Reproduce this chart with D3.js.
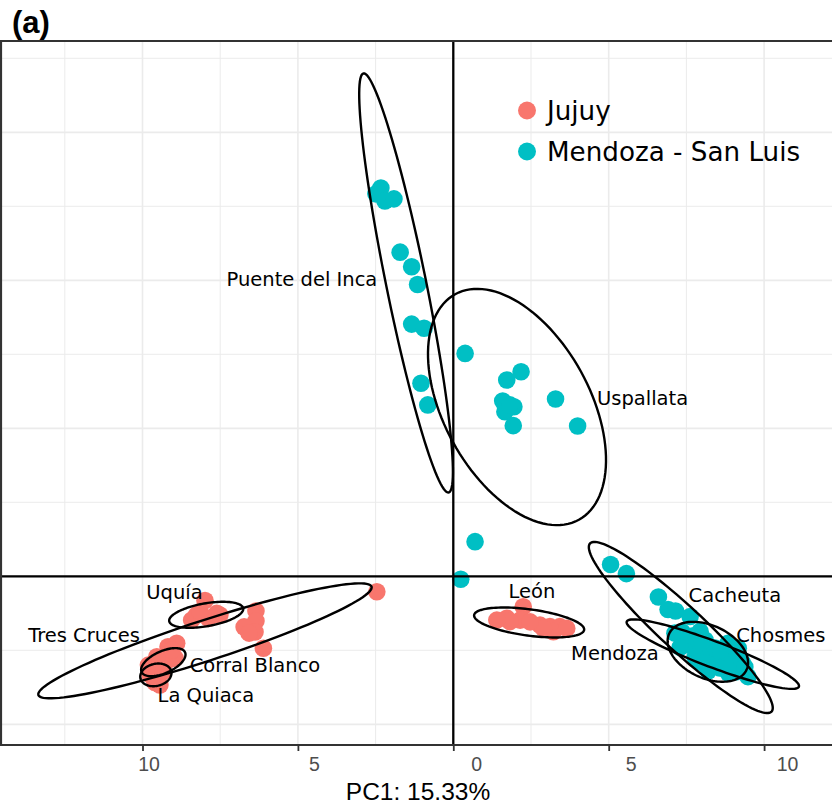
<!DOCTYPE html>
<html>
<head>
<meta charset="utf-8">
<script src="https://cdn.jsdelivr.net/npm/d3@7"></script>
<style>
body { margin: 0; background: #fff; }
</style>
</head>
<body>
<script>
// PCA scores (PC1, PC2)
let jujuyPoints = [
    [-2.46, -0.52],
    // Uquía
    [-7.99, -0.82], [-8.26, -1.31], [-7.61, -1.25], [-8.42, -1.48], [-7.88, -1.42], [-7.51, -1.31], [-8.15, -1.20],
    // Tres Cruces
    [-6.35, -1.17], [-6.35, -1.51], [-6.73, -1.71], [-6.38, -1.88], [-6.57, -1.92], [-6.11, -2.43],
    // Corral Blanco / La Quiaca
    [-8.90, -2.26], [-9.18, -2.38], [-8.95, -2.77], [-9.17, -2.83], [-9.38, -2.94], [-9.65, -3.05],
    [-9.81, -3.00], [-9.54, -2.72], [-9.76, -3.33], [-9.54, -3.22], [-9.33, -3.22], [-9.60, -3.59],
    [-9.44, -3.67], [-9.05, -2.49],
    // León
    [2.25, -1.03], [1.72, -1.42], [2.15, -1.48], [1.82, -1.53], [1.40, -1.48], [2.79, -1.65],
    [3.11, -1.70], [3.43, -1.70], [3.22, -1.87], [2.90, -1.76], [3.65, -1.76], [2.47, -1.54]
]

let mendozaPoints = [
    // Puente del Inca
    [-2.49, 12.92], [-2.33, 13.12], [-2.20, 12.68], [-1.91, 12.75], [-1.71, 10.95], [-1.34, 10.46],
    [-1.15, 9.86], [-1.34, 8.52], [-0.94, 8.38], [-1.04, 6.52], [-0.82, 5.79],
    // Uspallata
    [0.38, 7.53], [2.18, 6.91], [1.72, 6.63], [1.59, 5.92], [1.95, 5.73], [1.66, 5.56],
    [1.93, 5.09], [3.29, 5.99], [4.00, 5.08], [1.82, 5.79],
    [0.70, 1.17], [0.24, -0.10],
    // Cacheuta / Chosmes / Mendoza
    [5.06, 0.40], [5.57, 0.09], [6.60, -0.70], [6.91, -1.12], [7.15, -1.17], [7.62, -1.36],
    [7.94, -1.86], [7.13, -1.92], [8.84, -2.26], [9.17, -2.43], [9.48, -3.39], [8.85, -3.27],
    [9.13, -3.22], [7.45, -2.15], [7.61, -2.32], [7.94, -2.49], [8.26, -2.66], [8.58, -2.83],
    [8.10, -2.15], [8.42, -2.42], [8.74, -2.66], [9.06, -2.83], [7.78, -2.73], [8.26, -3.00],
    [8.90, -3.00], [9.29, -2.90], [7.94, -2.90], [8.58, -3.10], [9.38, -3.06], [7.36, -1.88],
    [7.68, -2.02], [8.00, -2.20], [8.60, -2.50], [7.30, -2.40], [8.20, -3.20]
]

// confidence ellipses: centre, end of one axis, end of the other axis
let ellipseCenters = [[-1.52, 9.91], [2.05, 5.72], [-7.99, -2.18], [-7.95, -1.30], [-9.33, -2.90],
    [-9.57, -3.33], [2.44, -1.56], [7.32, -1.73], [8.35, -2.63], [8.19, -2.55]]
let ellipseAxisA = [[-2.89, 16.99], [4.04, 1.91], [-2.63, -0.35], [-6.76, -1.08], [-8.63, -2.57],
    [-9.07, -3.23], [4.21, -1.81], [10.24, -4.57], [11.12, -3.73], [9.43, -3.17]]
let ellipseAxisB = [[-0.89, 10.04], [4.11, 6.91], [-7.79, -2.83], [-7.88, -1.68], [-9.19, -3.24],
    [-9.52, -3.70], [2.38, -2.00], [7.80, -1.19], [8.50, -2.22], [8.56, -1.75]]

let siteNames = ['Puente del Inca', 'Uspallata', 'Uquía', 'Tres Cruces', 'Corral Blanco',
    'La Quiaca', 'León', 'Cacheuta', 'Chosmes', 'Mendoza']
let siteX = [-4.87, 6.09, -8.97, -11.88, -6.38, -7.96, 2.53, 9.06, 10.54, 5.20]
let siteY = [10.03, 6.01, -0.55, -1.98, -3.00, -4.01, -0.50, -0.63, -1.98, -2.59]

let groups = ['Jujuy', 'Mendoza - San Luis']
let xTicks = [-10, -5, 0, 5, 10]
let xTickLabels = ['10', '5', '0', '5', '10']

SVG_WIDTH = 832
SVG_HEIGHT = 809
JUJUY_COLOR = '#F8766D'
MENDOZA_COLOR = '#00BFC4'
TICK_NUDGE = [6, 16, 23, 22, 23]

let panel = {left: 1, right: 832, top: 41, bottom: 745}

let x = d3.scaleLinear().domain([-14.585, 12.185]).range([0, 832])
let y = d3.scaleLinear().domain([-5.699, 18.084]).range([panel.bottom, panel.top])

let svg = d3.select('body').append('svg')
    .attr('width', SVG_WIDTH)
    .attr('height', SVG_HEIGHT)
    .style('display', 'block')

// grid
let grid = svg.append('g')
let xMinor = [-12.5, -7.5, -2.5, 2.5, 7.5]
let yMinor = [-2.5, 2.5, 7.5, 12.5, 17.5]
let yMajor = [-5, 0, 5, 10, 15]

grid.selectAll('.xminor').data(xMinor).join('line')
    .attr('x1', d => x(d)).attr('x2', d => x(d))
    .attr('y1', panel.top).attr('y2', panel.bottom)
    .attr('stroke', '#ebebeb').attr('stroke-width', 1)
grid.selectAll('.xmajor').data(xTicks).join('line')
    .attr('x1', d => x(d)).attr('x2', d => x(d))
    .attr('y1', panel.top).attr('y2', panel.bottom)
    .attr('stroke', '#ebebeb').attr('stroke-width', 1.6)
grid.selectAll('.yminor').data(yMinor).join('line')
    .attr('y1', d => y(d)).attr('y2', d => y(d))
    .attr('x1', panel.left).attr('x2', panel.right)
    .attr('stroke', '#ebebeb').attr('stroke-width', 1)
grid.selectAll('.ymajor').data(yMajor).join('line')
    .attr('y1', d => y(d)).attr('y2', d => y(d))
    .attr('x1', panel.left).attr('x2', panel.right)
    .attr('stroke', '#ebebeb').attr('stroke-width', 1.8)

// points
svg.append('g').selectAll('circle')
    .data(jujuyPoints.map(p => ({p: p, c: JUJUY_COLOR})).concat(mendozaPoints.map(p => ({p: p, c: MENDOZA_COLOR}))))
    .join('circle')
    .attr('cx', d => x(d.p[0]))
    .attr('cy', d => y(d.p[1]))
    .attr('r', 8.8)
    .attr('fill', d => d.c)

// ellipses
let ellipsePoints = (i) => {
    let c = ellipseCenters[i], a = ellipseAxisA[i], b = ellipseAxisB[i]
    return d3.range(0, 120).map(k => {
        let t = k / 120 * 2 * Math.PI
        return [c[0] + Math.cos(t) * (a[0] - c[0]) + Math.sin(t) * (b[0] - c[0]),
                c[1] + Math.cos(t) * (a[1] - c[1]) + Math.sin(t) * (b[1] - c[1])]
    })
}
let ellipseLine = d3.line().x(d => x(d[0])).y(d => y(d[1])).curve(d3.curveLinearClosed)

svg.append('g').selectAll('path')
    .data(ellipseCenters.map((c, i) => ellipsePoints(i)))
    .join('path')
    .attr('d', ellipseLine)
    .attr('fill', 'none')
    .attr('stroke', '#000')
    .attr('stroke-width', 2.4)

// zero lines
svg.append('line')
    .attr('x1', panel.left).attr('x2', panel.right)
    .attr('y1', y(0)).attr('y2', y(0))
    .attr('stroke', '#000').attr('stroke-width', 2.3)
svg.append('line')
    .attr('x1', x(0)).attr('x2', x(0))
    .attr('y1', panel.top).attr('y2', panel.bottom)
    .attr('stroke', '#000').attr('stroke-width', 2.3)

// site labels
svg.append('g').selectAll('text')
    .data(siteNames)
    .join('text')
    .attr('x', (d, i) => x(siteX[i]))
    .attr('y', (d, i) => y(siteY[i]))
    .attr('dy', '0.35em')
    .attr('text-anchor', 'middle')
    .style('font-family', 'DejaVu Sans')
    .style('font-size', '19.5px')
    .attr('fill', '#000')
    .text(d => d)

// legend
let legend = svg.append('g')
legend.selectAll('circle')
    .data(groups)
    .join('circle')
    .attr('cx', 527)
    .attr('cy', (d, i) => 110.5 + i * 41)
    .attr('r', 9)
    .attr('fill', (d, i) => i == 0 ? JUJUY_COLOR : MENDOZA_COLOR)
legend.selectAll('text')
    .data(groups)
    .join('text')
    .attr('x', 547)
    .attr('y', (d, i) => 110.5 + i * 41)
    .attr('dy', '0.36em')
    .style('font-family', 'DejaVu Sans')
    .style('font-size', '26.2px')
    .attr('fill', '#000')
    .text(d => d)

// panel border
svg.append('path')
    .attr('d', `M${panel.right + 10},${panel.top}H${panel.left}V${panel.bottom}H${panel.right + 10}`)
    .attr('fill', 'none')
    .attr('stroke', '#333')
    .attr('stroke-width', 2.2)

// x axis
let xAxis = d3.axisBottom(x)
    .tickValues(xTicks)
    .tickFormat((d, i) => xTickLabels[i])
    .tickSize(6)
    .tickPadding(6)

let axisG = svg.append('g')
    .attr('transform', `translate(0,${panel.bottom})`)
    .call(xAxis)
axisG.select('.domain').remove()
axisG.selectAll('.tick line').attr('stroke', '#333').attr('stroke-width', 1.8)
axisG.selectAll('.tick text')
    .attr('dx', (d, i) => TICK_NUDGE[i])
    .attr('fill', '#4d4d4d')
    .style('font-family', 'Liberation Sans, Arial, sans-serif')
    .style('font-size', '19.5px')

svg.append('text')
    .attr('x', 418)
    .attr('y', 800)
    .attr('text-anchor', 'middle')
    .style('font-family', 'Liberation Sans, Arial, sans-serif')
    .style('font-size', '24.5px')
    .attr('fill', '#000')
    .text('PC1: 15.33%')

svg.append('text')
    .attr('x', 12)
    .attr('y', 33)
    .style('font-family', 'Liberation Sans, Arial, sans-serif')
    .style('font-size', '31px')
    .style('font-weight', 'bold')
    .attr('fill', '#000')
    .text('(a)')
</script>
</body>
</html>
